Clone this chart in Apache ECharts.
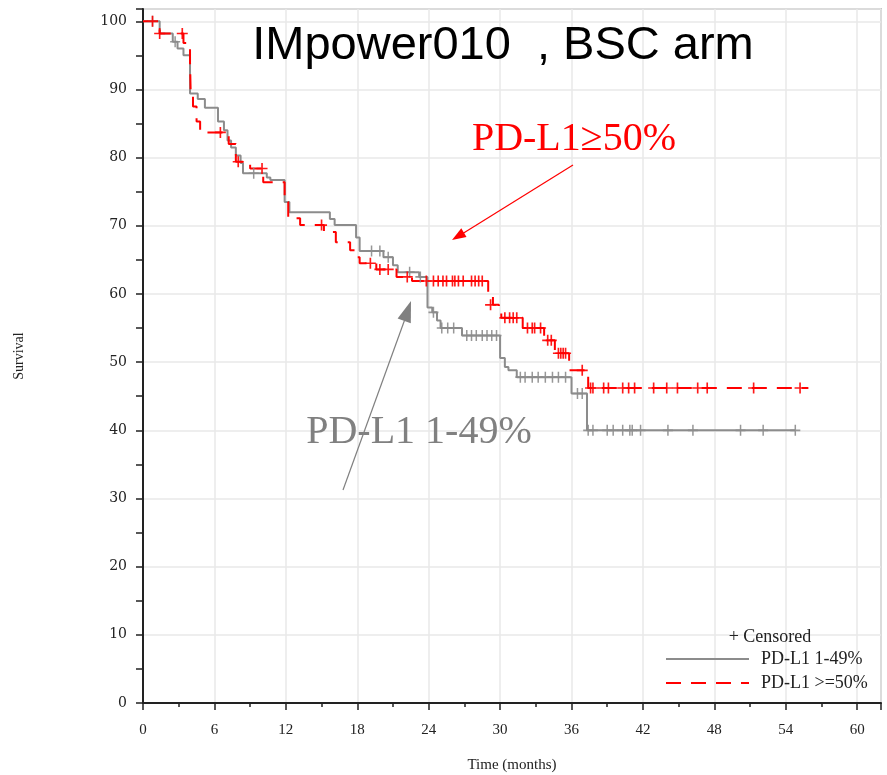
<!DOCTYPE html>
<html>
<head>
<meta charset="utf-8">
<script src="https://cdn.jsdelivr.net/npm/echarts@6/dist/echarts.min.js"></script>
<style>html,body{margin:0;padding:0;background:#fff;}#c{width:887px;height:775px;}</style>
</head>
<body>
<div id="c"></div>
<script>
// ---- Data (months, survival %) ----
const xTicks = [0, 6, 12, 18, 24, 30, 36, 42, 48, 54, 60];
const yTicks = [0, 10, 20, 30, 40, 50, 60, 70, 80, 90, 100];

const lowName = 'PD-L1 1-49%';
const highName = 'PD-L1 >=50%';

// Kaplan-Meier steps: [time, survival after event]
const lowSteps = [
  [0,100],[1.4,98.2],[2.5,97.0],[2.9,96.0],[3.4,95.0],[3.95,89.4],[4.6,88.6],[5.2,87.3],
  [6.3,85.3],[6.8,84.0],[7.1,82.5],[7.4,81.5],[7.8,80.3],[8.2,79.2],[8.4,77.7],[10.4,77.1],
  [10.7,76.7],[11.9,73.5],[12.3,72.0],[15.7,71.0],[16.1,70.1],[17.9,68.3],[18.2,66.3],
  [20.2,65.4],[21.0,64.2],[21.4,63.2],[23.2,62.5],[23.9,58.0],[24.3,57.3],[24.7,56.1],
  [25.0,55.0],[26.8,53.9],[30.0,50.6],[30.4,49.3],[30.7,48.8],[31.4,47.8],[36.0,45.4],
  [37.3,40.0],[54.8,40.0]
];
const lowCensor = [
  [0.8,100],[2.7,97.0],[9.3,77.7],[19.2,66.3],[19.9,66.3],[20.6,65.4],[22.4,63.2],[23.3,62.5],
  [24.4,57.3],[25.1,55.0],[25.6,55.0],[26.1,55.0],[27.2,53.9],[27.6,53.9],[28.0,53.9],
  [28.5,53.9],[28.9,53.9],[29.3,53.9],[29.7,53.9],[31.7,47.8],[32.1,47.8],[32.7,47.8],
  [33.2,47.8],[33.8,47.8],[34.4,47.8],[34.9,47.8],[35.5,47.8],[36.5,45.4],[36.9,45.4],
  [37.4,40],[37.8,40],[39.0,40],[39.5,40],[40.3,40],[40.9,40],[41.1,40],[41.8,40],
  [44.1,40],[46.2,40],[50.2,40],[52.1,40],[54.8,40]
];

const highSteps = [
  [0,100],[1.4,98.2],[3.4,96.8],[3.95,94.0],[4.0,90.0],[4.2,87.5],[4.5,85.3],[4.8,83.7],
  [7.2,82.0],[7.8,79.4],[9.0,78.4],[10.1,76.4],[11.9,73.5],[12.2,71.1],[13.2,70.1],
  [15.2,69.1],[16.2,67.6],[17.4,66.4],[17.8,65.4],[18.2,64.5],[19.6,63.6],[21.3,62.5],
  [22.6,61.9],[29.0,59.8],[29.4,58.4],[29.9,57.4],[30.1,56.5],[31.9,55.0],[33.7,53.2],
  [34.6,51.3],[35.8,48.8],[37.4,46.2],[55.9,46.2]
];
const highCensor = [
  [0.8,100],[1.4,98.2],[3.3,98.2],[6.5,83.7],[8.0,79.4],[10.0,78.4],[15.0,70.1],[19.1,64.5],
  [19.9,63.6],[20.6,63.6],[22.2,62.5],[23.8,61.9],[24.4,61.9],[24.8,61.9],[25.2,61.9],
  [25.5,61.9],[26.0,61.9],[26.2,61.9],[26.5,61.9],[26.9,61.9],[27.6,61.9],[27.9,61.9],
  [28.2,61.9],[28.5,61.9],[29.2,58.4],[30.4,56.5],[30.8,56.5],[31.1,56.5],[31.4,56.5],
  [32.3,55.0],[32.7,55.0],[32.9,55.0],[33.4,55.0],[34.0,53.2],[34.3,53.2],[34.9,51.3],
  [35.1,51.3],[35.3,51.3],[35.5,51.3],[36.9,48.8],[37.6,46.2],[37.8,46.2],[38.7,46.2],
  [39.1,46.2],[40.3,46.2],[40.8,46.2],[41.3,46.2],[42.9,46.2],[44.0,46.2],[44.9,46.2],
  [46.6,46.2],[47.4,46.2],[51.3,46.2],[55.2,46.2]
];

const titleText = 'IMpower010  , BSC arm';
const highLabel = 'PD-L1≥50%';
const lowLabel = 'PD-L1 1-49%';
const censorLabel = '+ Censored';
const xName = 'Time (months)';
const yName = 'Survival';

// ---- Styles ----
const GRAY = '#8c8c8c';
const RED = '#ff0000';
const PLUS = 'path://M8.5,0h3v8.5h8.5v3h-8.5v8.5h-3v-8.5h-8.5v-3h8.5z';

const chart = echarts.init(document.getElementById('c'), null, {renderer: 'canvas'});

const option = {
  backgroundColor: '#ffffff',
  animation: false,
  grid: {left: 143, right: 6, top: 9, bottom: 72, show: true, borderColor: '#9a9a9a', borderWidth: 1.5,
    containLabel: false, outerBoundsMode: 'none'},
  xAxis: {
    type: 'value', min: xTicks[0], max: 62, interval: 6,
    name: xName, nameLocation: 'middle', nameGap: 55,
    nameTextStyle: {fontFamily: 'Liberation Serif', fontSize: 15, color: '#222'},
    axisLine: {show: true, onZero: false, lineStyle: {color: '#222', width: 2}},
    axisTick: {show: true, inside: false, length: 7, lineStyle: {color: '#222', width: 1.5}},
    minorTick: {show: true, splitNumber: 2, length: 4, lineStyle: {color: '#222', width: 1.5}},
    axisLabel: {showMaxLabel: false, margin: 20, fontFamily: 'Liberation Serif', fontSize: 15, color: '#222',
      formatter: v => xTicks.includes(v) ? String(v) : ''},
    splitLine: {show: true, lineStyle: {color: '#e9e9e9', width: 1.5}}
  },
  yAxis: {
    type: 'value', min: yTicks[0], max: 101.8, interval: 10,
    name: yName, nameLocation: 'middle', nameGap: 117, nameRotate: 90,
    nameTextStyle: {fontFamily: 'Liberation Serif', fontSize: 14, color: '#222'},
    axisLine: {show: true, onZero: false, lineStyle: {color: '#222', width: 2}},
    axisTick: {show: true, inside: false, length: 7, lineStyle: {color: '#222', width: 1.5}},
    minorTick: {show: true, splitNumber: 2, length: 7, lineStyle: {color: '#222', width: 1.5}},
    axisLabel: {showMaxLabel: false, margin: 16, fontFamily: 'DejaVu Serif', fontSize: 14, color: '#222',
      formatter: v => yTicks.includes(v) ? String(v) : ''},
    splitLine: {show: true, lineStyle: {color: '#e9e9e9', width: 1.5}}
  },
  legend: {
    orient: 'vertical', left: 665, top: 650, padding: 0, itemWidth: 83, itemHeight: 12, itemGap: 6,
    data: [lowName, highName],
    itemStyle: {opacity: 0},
    textStyle: {fontFamily: 'Liberation Serif', fontSize: 18, color: '#222', padding: [0, 0, 0, 7]},
    selectedMode: false
  },
  series: [
    {name: lowName, type: 'line', step: 'end', data: lowSteps, symbol: 'none', showSymbol: false,
      lineStyle: {color: GRAY, width: 2}, itemStyle: {color: GRAY}, z: 3},
    {name: highName, type: 'line', step: 'end', data: highSteps, symbol: 'none', showSymbol: false,
      lineStyle: {color: RED, width: 2, type: [15, 10]}, itemStyle: {color: RED}, z: 4},
    {name: lowName + ' censored', type: 'scatter', data: lowCensor, symbol: PLUS, symbolSize: [10, 11],
      itemStyle: {color: GRAY, opacity: 0.9}, z: 5, silent: true},
    {name: highName + ' censored', type: 'scatter', data: highCensor, symbol: PLUS, symbolSize: [11, 11],
      itemStyle: {color: RED, opacity: 0.9}, z: 6, silent: true}
  ],
  graphic: [
    {type: 'text', z: 100, style: {text: titleText, x: 503, y: 46, align: 'center', verticalAlign: 'middle',
      font: '47px "Liberation Sans", Arial, sans-serif', fill: '#000'}},
    {type: 'text', z: 100, style: {text: highLabel, x: 574, y: 139, align: 'center', verticalAlign: 'middle',
      font: '40px "Liberation Serif", serif', fill: RED}},
    {type: 'text', z: 100, style: {text: lowLabel, x: 419, y: 432, align: 'center', verticalAlign: 'middle',
      font: '40px "Liberation Serif", serif', fill: '#808080'}},
    {type: 'line', z: 100, shape: {x1: 573, y1: 165, x2: 462, y2: 234}, style: {stroke: RED, lineWidth: 1.2}},
    {type: 'polygon', z: 100, shape: {points: [[452, 240], [461.3, 228.3], [466.5, 236.9]]}, style: {fill: RED}},
    {type: 'line', z: 100, shape: {x1: 343, y1: 490, x2: 405, y2: 319}, style: {stroke: '#808080', lineWidth: 1.2}},
    {type: 'polygon', z: 100, shape: {points: [[411, 301], [410.8, 323.2], [397.6, 318.4]]}, style: {fill: '#808080'}},
    {type: 'text', z: 100, style: {text: censorLabel, x: 770, y: 637, align: 'center', verticalAlign: 'middle',
      font: '18px "Liberation Serif", serif', fill: '#222'}}
  ]
};
chart.setOption(option);
</script>
</body>
</html>
